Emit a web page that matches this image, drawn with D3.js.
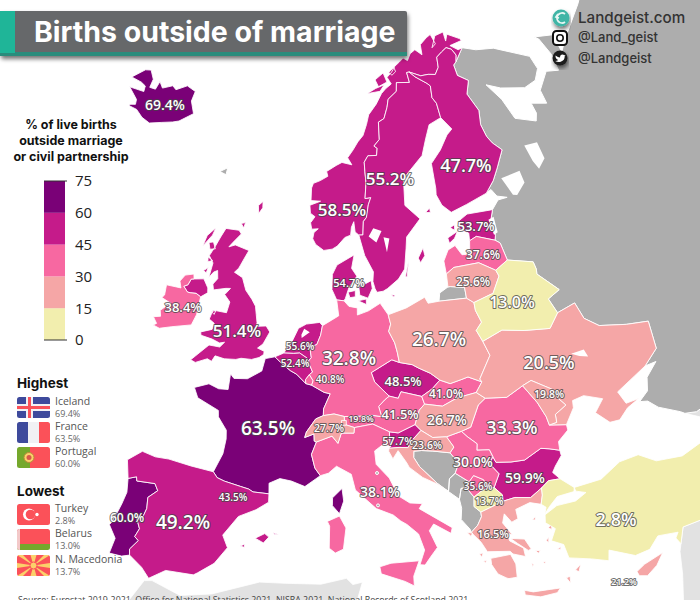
<!DOCTYPE html>
<html>
<head>
<meta charset="utf-8">
<title>Births outside of marriage</title>
<script src="https://cdn.jsdelivr.net/npm/d3@7"></script>
<style>
  html, body { margin: 0; padding: 0; background: #fff; overflow: hidden; }
  svg { display: block; }
  text { font-family: "Open Sans", sans-serif; }
  .head { font-family: Inter, sans-serif; font-weight: 700; }
  .pct { fill: #fff; font-weight: 600; text-anchor: middle; dominant-baseline: central;
         stroke: #444; stroke-opacity: .75; stroke-width: 2px; paint-order: stroke; stroke-linejoin: round; }
</style>
</head>
<body>
<div id="chart"></div>
<script>
// values
const countryNames = ["Iceland","France","Portugal","Bulgaria","Norway","Slovenia","Netherlands","Sweden","Denmark","Estonia","Belgium","UK","Spain","Czechia","Finland","Andorra","Austria","Slovakia","Luxembourg","Ireland","Italy","Latvia","Kosovo","Romania","Germany","Serbia","Switzerland","Poland","Hungary","Lithuania","Croatia","Cyprus","Ukraine","Moldova","Liechtenstein","Greece","NMacedonia","Belarus","Turkey"];
const countryValues = [69.4,63.5,60.0,59.9,58.5,57.7,55.6,55.2,54.7,53.7,52.4,51.4,49.2,48.5,47.7,43.5,41.5,41.0,40.8,38.4,38.1,37.6,35.6,33.3,32.8,30.0,27.7,26.7,26.7,25.6,23.6,21.2,20.5,19.8,19.8,16.5,13.7,13.0,2.8];
const legendBreaks = [0,15,30,45,60,75];
const legendColors = ["#f2eeae","#f5a6a6","#f768a1","#c51b8a","#7a0177"];
const highestRows = [["Iceland","69.4%"],["France","63.5%"],["Portugal","60.0%"]];
const lowestRows = [["Turkey","2.8%"],["Belarus","13.0%"],["N. Macedonia","13.7%"]];

// shared borders, lon/lat
const esPt = [[-8.87,41.87],[-8.2,42.1],[-8.1,41.85],[-6.55,41.95],[-6.2,41.55],[-6.9,41.0],[-6.8,40.3],[-7.0,39.65],[-7.5,39.65],[-7.05,38.95],[-7.3,38.4],[-6.95,38.2],[-7.5,37.55],[-7.4,37.18]];
const esFr = [[-1.8,43.38],[-1.4,43.05],[-0.75,42.9],[0.7,42.7],[1.4,42.6],[1.8,42.45],[3.17,42.43]];
const frBe = [[2.55,51.08],[3.2,50.75],[4.2,50.3],[4.85,50.1],[5.8,49.55]];
const frLu = [[5.8,49.55],[6.37,49.47]];
const frDe = [[6.37,49.47],[7.6,49.05],[8.2,48.97],[7.6,48.0],[7.6,47.58]];
const frCh = [[7.6,47.58],[6.9,47.35],[6.1,46.5],[5.97,46.15],[6.8,46.4],[6.85,45.95],[7.05,45.9]];
const frIt = [[7.05,45.9],[6.65,45.1],[7.0,44.25],[7.5,43.78]];
const beNl = [[3.4,51.37],[4.4,51.4],[5.0,51.45],[5.8,51.15],[5.7,50.76]];
const beDe = [[5.7,50.76],[6.1,50.7],[6.4,50.3],[6.1,50.13]];
const beLu = [[6.1,50.13],[5.75,49.8],[5.8,49.55]];
const luDe = [[6.37,49.47],[6.5,49.75],[6.1,50.13]];
const nlDe = [[7.2,53.25],[7.05,52.65],[6.7,52.05],[6.0,51.85],[6.2,51.2],[5.95,51.0],[5.7,50.76]];
const deDk = [[8.65,54.9],[9.45,54.85]];
const dePl = [[14.2,53.9],[14.4,53.3],[14.15,52.85],[14.7,52.1],[14.9,51.5],[15.04,50.85]];
const deCz = [[15.04,50.85],[14.3,51.05],[12.2,50.3],[12.5,49.7],[13.85,48.77]];
const deAt = [[13.85,48.77],[13.4,48.55],[12.8,48.15],[13.05,47.5],[12.2,47.6],[10.45,47.55],[9.55,47.55]];
const deCh = [[9.55,47.55],[8.6,47.7],[7.6,47.58]];
const plRu = [[19.8,54.44],[22.8,54.36]];
const plLt = [[22.8,54.36],[23.5,54.0]];
const plBy = [[23.5,54.0],[23.5,53.5],[23.9,52.7],[23.2,52.25],[23.65,51.5]];
const plUa = [[23.65,51.5],[24.1,50.55],[22.7,49.2],[22.85,49.0]];
const plSk = [[22.85,49.0],[21.6,49.45],[20.9,49.35],[19.8,49.2],[18.85,49.5]];
const plCz = [[18.85,49.5],[18.0,50.0],[16.9,50.4],[16.3,50.65],[15.04,50.85]];
const czSk = [[18.85,49.5],[18.0,49.0],[16.95,48.6]];
const czAt = [[16.95,48.6],[15.0,49.0],[14.7,48.6],[13.85,48.77]];
const skUa = [[22.85,49.0],[22.15,48.4]];
const skHu = [[17.15,48.1],[18.8,47.85],[20.3,48.25],[22.15,48.4]];
const skAt = [[17.15,48.1],[16.95,48.6]];
const atHu = [[17.15,48.1],[16.6,47.75],[16.1,46.87]];
const atSi = [[16.1,46.87],[14.5,46.42],[13.7,46.52]];
const atIt = [[13.7,46.52],[12.2,47.05],[10.5,46.85]];
const atCh = [[10.5,46.85],[9.6,47.05],[9.55,47.55]];
const chIt = [[10.5,46.85],[10.45,46.5],[9.3,46.5],[9.0,45.85],[8.45,46.3],[7.05,45.9]];
const itSi = [[13.75,45.6],[13.7,45.95],[13.7,46.52]];
const siHu = [[16.1,46.87],[16.6,46.47]];
const siHr = [[16.6,46.47],[15.65,45.85],[15.3,45.45],[14.5,45.5],[13.6,45.48]];
const huUa = [[22.15,48.4],[22.9,47.95]];
const huRo = [[22.9,47.95],[22.15,47.6],[21.15,46.3],[20.25,46.12]];
const huRs = [[20.25,46.12],[18.85,45.9]];
const huHr = [[18.85,45.9],[17.6,45.95],[16.6,46.47]];
const hrRs = [[18.85,45.9],[19.4,45.2],[19.0,44.87]];
const hrBa = [[19.0,44.87],[17.5,45.1],[16.5,45.2],[15.8,45.2],[15.75,44.8],[16.2,44.2],[17.6,43.05],[18.5,42.45]];
const baRs = [[19.0,44.87],[19.35,44.5],[19.6,44.05],[19.25,43.55]];
const baMe = [[19.25,43.55],[18.7,43.25],[18.5,42.45]];
const meRs = [[19.25,43.55],[20.35,42.9]];
const meKs = [[20.35,42.9],[20.05,42.55]];
const meAl = [[20.05,42.55],[19.6,42.55],[19.35,41.88]];
const rsRo = [[20.25,46.12],[20.7,45.75],[21.5,45.2],[21.4,44.8],[22.5,44.7],[22.7,44.25]];
const rsBg = [[22.7,44.25],[22.35,43.8],[23.0,43.1],[22.4,42.3]];
const rsMk = [[22.4,42.3],[21.75,42.3],[21.4,42.25]];
const rsKs = [[21.4,42.25],[21.75,42.65],[21.6,42.9],[20.8,43.25],[20.35,42.9]];
const ksMk = [[21.4,42.25],[20.6,41.9]];
const ksAl = [[20.6,41.9],[20.05,42.55]];
const mkBg = [[22.4,42.3],[23.0,41.75],[22.95,41.35]];
const mkGr = [[22.95,41.35],[21.0,40.9]];
const mkAl = [[21.0,40.9],[20.5,41.3],[20.6,41.9]];
const alGr = [[20.0,39.7],[20.6,40.1],[21.0,40.6],[21.0,40.9]];
const grTr = [[26.05,40.7],[26.3,41.25],[26.35,41.7]];
const grBg = [[26.35,41.7],[25.3,41.25],[24.0,41.45],[22.95,41.35]];
const bgTr = [[26.35,41.7],[27.05,42.05],[28.05,42.0]];
const roBg = [[28.58,43.75],[27.7,44.0],[27.0,44.15],[25.4,43.65],[24.2,43.7],[22.9,43.85],[22.7,44.25]];
const roUaN = [[22.9,47.95],[24.9,47.75],[26.6,48.25]];
const roMd = [[26.6,48.25],[27.6,47.0],[28.1,46.0],[28.2,45.45]];
const roUaS = [[28.2,45.45],[29.7,45.2]];
const mdUa = [[26.6,48.25],[27.5,48.45],[29.2,47.6],[29.6,46.9],[30.1,46.4],[28.95,46.0],[28.9,45.5],[28.2,45.45]];
const uaRu = [[38.2,47.1],[39.8,47.85],[40.1,49.6],[38.0,49.95],[35.4,50.5],[34.2,51.25],[33.8,52.35],[31.8,52.1]];
const uaBy = [[31.8,52.1],[30.6,51.3],[28.0,51.6],[25.8,51.95],[23.65,51.5]];
const byRu = [[31.8,52.1],[31.3,53.1],[32.7,53.45],[30.9,54.8],[31.0,55.1],[30.9,55.6],[28.15,56.15]];
const byLv = [[28.15,56.15],[26.6,55.7]];
const byLt = [[26.6,55.7],[26.8,55.3],[25.7,54.3],[25.5,54.3],[23.5,54.0]];
const ltLv = [[21.05,56.07],[22.0,56.4],[24.9,56.4],[26.6,55.7]];
const ltRu = [[22.8,54.36],[22.8,55.05],[21.25,55.25],[21.0,55.25]];
const lvEe = [[24.4,57.87],[25.3,58.05],[27.35,57.55]];
const lvRu = [[27.35,57.55],[27.85,57.3],[28.15,56.15]];
const eeRu = [[28.0,59.45],[27.4,58.75],[27.55,57.85],[27.35,57.55]];
const fiSe = [[20.55,69.06],[21.4,68.7],[23.2,68.15],[23.65,67.95],[23.5,67.2],[24.0,66.8],[24.15,65.85]];
const fiRu = [[27.8,60.55],[29.1,61.2],[30.1,61.9],[31.5,62.9],[30.5,63.5],[30.0,64.0],[29.7,64.8],[30.1,65.7],[29.1,66.9],[30.0,67.7],[28.5,68.2],[28.4,68.9],[28.93,69.05]];
const fiNo = [[28.93,69.05],[29.33,69.47],[28.85,69.9],[28.0,70.09],[27.0,69.9],[25.9,69.65],[25.7,69.0],[24.9,68.6],[23.7,68.7],[22.4,68.7],[20.55,69.06]];
const seNo = [[20.55,69.06],[20.1,69.05],[20.3,68.4],[18.1,68.5],[17.9,67.95],[16.4,67.5],[16.1,67.0],[15.45,66.3],[14.55,66.1],[14.5,65.0],[13.65,64.6],[14.1,64.45],[13.95,64.0],[12.7,64.0],[12.15,63.6],[12.2,63.0],[12.3,62.3],[12.1,61.3],[12.85,61.35],[12.5,60.9],[12.2,60.1],[11.8,59.85],[11.7,59.0],[11.2,59.0]];
const noRu = [[30.8,69.8],[28.93,69.05]];
const ieNi = [[-6.1,54.05],[-6.65,54.2],[-7.3,54.15],[-7.6,54.15],[-8.15,54.45],[-7.75,54.6],[-7.55,55.0],[-7.25,55.05]];

// coasts
const ptCoast = [[-7.4,37.18],[-8.0,37.0],[-9.0,37.0],[-8.8,38.0],[-9.5,38.75],[-9.3,39.0],[-8.9,40.2],[-8.7,41.0],[-8.87,41.87]];
const esNorth = [[-8.87,41.87],[-9.3,43.0],[-8.2,43.75],[-7.0,43.6],[-5.8,43.65],[-3.8,43.5],[-1.8,43.38]];
const esEast = [[3.17,42.43],[3.2,41.9],[2.2,41.35],[0.8,40.8],[-0.3,39.5],[0.2,38.75],[-0.7,37.65],[-1.9,36.9],[-2.2,36.73],[-4.4,36.7],[-5.6,36.0],[-6.3,36.6],[-7.4,37.18]];
const frAtl = [[-1.8,43.38],[-1.2,44.6],[-1.1,45.55],[-1.2,46.1],[-2.1,46.85],[-2.2,47.25],[-4.3,47.8],[-4.8,48.4],[-3.5,48.8],[-2.5,48.6],[-1.6,48.65],[-1.6,49.65],[-1.2,49.4],[0.1,49.5],[1.4,50.1],[1.6,50.9],[2.55,51.08]];
const frMed = [[7.5,43.78],[6.2,43.05],[5.0,43.35],[4.0,43.45],[3.1,43.1],[3.17,42.43]];
const beCoast = [[2.55,51.08],[3.4,51.37]];
const nlCoast = [[3.4,51.37],[3.6,51.6],[4.05,52.0],[4.7,53.0],[5.5,53.3],[6.9,53.45],[7.2,53.25]];
const deNorth = [[7.2,53.25],[8.1,53.6],[8.9,53.9],[8.65,54.9]];
const deBaltic = [[9.45,54.85],[10.0,54.5],[10.9,54.4],[10.9,53.95],[12.1,54.2],[13.4,54.65],[14.2,53.9]];
const jutland = [[9.45,54.85],[9.6,55.0],[10.0,55.7],[10.9,56.4],[10.3,56.9],[10.6,57.75],[8.6,57.1],[8.1,56.5],[8.1,55.55],[8.65,54.9]];
const plBaltic = [[14.2,53.9],[16.2,54.25],[18.3,54.8],[18.6,54.4],[19.8,54.44]];
const itCoast = [[7.5,43.78],[8.2,43.95],[8.9,44.4],[10.2,43.9],[10.55,42.9],[12.3,41.7],[13.7,41.25],[14.3,40.85],[14.8,40.6],[15.7,39.95],[16.1,38.9],[15.65,38.0],[16.05,37.95],[16.5,38.4],[17.15,39.0],[16.6,40.1],[17.0,40.5],[18.35,39.8],[18.5,40.15],[15.9,41.55],[16.2,41.85],[15.15,41.95],[14.2,42.45],[13.5,43.6],[12.4,44.5],[12.3,45.35],[13.1,45.75],[13.75,45.6]];
const siCoast = [[13.6,45.48],[13.75,45.6]];
const hrCoast = [[18.5,42.45],[17.6,43.0],[16.4,43.5],[15.3,44.2],[15.1,44.5],[14.4,45.3],[13.9,44.8],[13.55,45.3],[13.6,45.48]];
const meCoast = [[19.35,41.88],[18.5,42.45]];
const alCoast = [[19.35,41.88],[19.45,41.3],[19.3,40.6],[19.95,39.9],[20.0,39.7]];
const grCoast = [[20.0,39.7],[20.7,39.0],[21.1,38.35],[22.9,38.15],[23.1,37.95],[24.05,37.65],[24.0,38.2],[23.0,38.8],[22.9,39.3],[23.3,39.15],[22.65,40.0],[22.9,40.55],[23.4,39.95],[23.95,40.1],[23.9,40.7],[25.15,40.95],[26.05,40.7]];
const bgCoast = [[28.05,42.0],[27.55,42.5],[27.9,42.85],[28.6,43.4],[28.58,43.75]];
const roCoast = [[29.7,45.2],[29.7,44.85],[28.65,44.3],[28.58,43.75]];
const uaCoast = [[29.7,45.2],[30.7,46.1],[30.8,46.55],[31.9,46.65],[33.5,46.1],[32.5,45.4],[33.5,44.55],[34.4,44.5],[35.4,45.05],[36.6,45.35],[35.4,45.35],[35.0,46.2],[36.9,46.75],[38.2,47.1]];
const kalCoast = [[21.0,55.25],[20.0,54.95],[19.8,54.44]];
const ltCoast = [[21.0,55.25],[21.05,56.07]];
const lvCoast = [[21.05,56.07],[21.0,56.9],[21.7,57.55],[22.6,57.75],[23.2,57.1],[24.1,57.05],[24.4,57.87]];
const eeCoast = [[24.4,57.87],[24.5,58.35],[23.5,58.75],[23.5,59.2],[24.8,59.55],[28.0,59.45]];
const fiCoast = [[24.15,65.85],[25.4,65.0],[24.5,64.7],[23.1,63.85],[21.5,63.1],[21.5,61.5],[21.4,61.1],[21.9,60.4],[22.9,59.85],[25.0,60.15],[27.8,60.55]];
const seCoast = [[11.2,59.0],[11.85,57.7],[12.8,56.65],[12.7,56.05],[12.9,55.6],[13.1,55.35],[13.8,55.4],[14.3,55.55],[15.6,56.1],[16.4,56.7],[16.8,58.0],[17.0,58.7],[18.9,59.75],[17.2,60.7],[17.4,62.4],[20.4,63.7],[21.3,64.7],[22.2,65.55],[24.15,65.85]];
const noCoast = [[11.2,59.0],[10.75,59.2],[10.6,59.85],[10.3,59.5],[10.2,59.0],[9.5,58.85],[8.6,58.3],[8.0,58.1],[7.0,58.0],[6.0,58.35],[5.6,58.7],[5.7,59.1],[6.2,59.35],[5.4,59.3],[5.2,59.7],[5.7,60.1],[5.1,60.3],[4.95,60.8],[6.3,61.1],[5.05,61.1],[5.0,61.9],[5.2,62.2],[6.1,62.4],[7.1,62.7],[6.9,63.0],[8.2,63.4],[9.0,63.6],[10.4,63.45],[9.8,63.9],[10.6,64.4],[11.3,64.9],[12.1,65.3],[12.7,66.0],[13.1,66.6],[14.4,67.25],[15.4,67.9],[16.2,68.2],[17.2,68.45],[16.6,68.9],[17.5,69.2],[18.2,69.55],[19.0,69.75],[19.9,70.0],[20.6,69.8],[21.3,70.2],[22.3,70.4],[23.4,70.0],[23.5,70.65],[24.9,71.0],[25.8,71.15],[26.3,70.5],[25.5,70.3],[26.6,71.0],[28.3,71.1],[28.3,70.5],[28.9,70.9],[30.9,70.4],[31.1,70.25],[28.8,70.15],[30.0,69.75],[30.8,69.8]];
const ruGulf = [[28.0,59.45],[29.0,59.95],[30.2,59.95],[29.0,60.2],[28.5,60.7],[27.8,60.55]];
const ruArctic = [[30.8,69.8],[33.0,69.4],[36.0,69.1],[41.0,67.7],[41.2,66.8],[40.0,66.2],[38.0,66.05],[34.5,66.6],[32.5,67.1],[34.0,65.9],[34.8,64.5],[37.5,63.85],[38.0,64.3],[37.9,65.0],[40.0,64.6],[40.0,65.5],[42.2,66.4],[44.0,66.1],[44.3,67.2],[43.8,68.4],[43.3,68.65],[46.2,68.2],[46.0,67.0],[47.7,67.6],[53.0,68.9],[60.0,70.5],[75.0,70.0],[75.0,44.0],[48.0,44.0],[41.0,43.2],[40.0,43.4],[39.7,43.6],[38.0,44.4],[37.3,45.0],[36.6,45.15],[37.6,45.6],[38.0,46.4],[39.3,47.1],[38.2,47.1]];

// islands and the rest
const iceland = [[-22.7,63.85],[-21.5,63.85],[-20.3,63.55],[-19.0,63.42],[-17.5,63.75],[-16.0,64.05],[-15.2,64.25],[-13.6,65.0],[-14.6,65.7],[-14.6,66.35],[-16.1,66.5],[-17.5,66.0],[-18.2,66.15],[-19.5,65.75],[-20.3,66.05],[-20.4,65.5],[-21.3,65.45],[-21.4,66.0],[-22.4,66.45],[-23.2,66.3],[-24.5,65.5],[-22.8,65.5],[-22.0,65.4],[-21.8,65.05],[-24.0,64.9],[-22.2,64.4],[-22.0,64.1],[-22.7,63.95]];
const britain = [[1.4,51.15],[1.4,51.35],[0.7,51.5],[1.2,51.8],[1.75,52.6],[1.3,52.95],[0.3,52.85],[0.3,53.1],[0.1,53.6],[-0.1,54.1],[-0.6,54.5],[-1.4,55.0],[-2.0,55.75],[-3.0,56.0],[-2.6,56.3],[-2.05,57.15],[-1.8,57.5],[-3.5,57.7],[-4.2,57.5],[-3.8,57.85],[-3.05,58.45],[-3.4,58.65],[-5.0,58.6],[-5.4,58.0],[-5.8,57.3],[-6.0,57.0],[-6.2,56.7],[-5.6,56.3],[-5.7,55.35],[-5.3,55.75],[-4.9,55.9],[-4.7,55.4],[-5.1,55.0],[-4.9,54.65],[-3.6,54.9],[-3.1,54.95],[-3.6,54.5],[-2.9,54.1],[-3.05,53.4],[-4.5,53.4],[-4.7,52.8],[-4.1,52.6],[-4.2,52.2],[-5.3,51.9],[-5.2,51.7],[-4.0,51.6],[-3.2,51.45],[-2.7,51.55],[-3.1,51.2],[-4.2,51.2],[-5.7,50.05],[-5.2,49.95],[-4.1,50.33],[-3.65,50.22],[-3.4,50.6],[-2.45,50.52],[-1.3,50.6],[-0.8,50.72],[0.25,50.74],[0.97,50.92]];
const niCoast = [[-7.25,55.05],[-6.2,55.2],[-5.55,54.7],[-5.45,54.4],[-6.1,54.05]];
const ieCoast = [[-7.25,55.05],[-7.4,55.35],[-8.3,55.15],[-8.7,54.7],[-8.4,54.3],[-10.0,54.25],[-9.9,53.6],[-10.1,53.4],[-9.0,53.2],[-9.5,52.9],[-9.9,52.6],[-9.7,52.25],[-10.4,52.1],[-9.9,51.75],[-10.2,51.6],[-9.5,51.5],[-8.3,51.8],[-6.4,52.2],[-6.1,52.9],[-6.1,53.5],[-6.1,54.05]];
const ukIslands = [
  [[-6.6,57.5],[-6.1,57.6],[-5.7,57.2],[-6.3,57.1]],
  [[-7.0,57.9],[-6.2,58.5],[-6.4,58.0],[-7.2,57.2]],
  [[-6.3,56.6],[-5.7,56.45],[-6.2,56.3]],
  [[-6.45,55.7],[-6.0,55.95],[-6.1,55.6]],
  [[-4.65,53.3],[-4.2,53.4],[-4.3,53.15]],
  [[-3.3,59.1],[-2.8,59.2],[-2.9,58.85]],
  [[-1.4,59.9],[-1.0,60.3],[-1.1,60.7],[-1.6,60.4]]
];
const dkIslands = [
  [[11.1,55.7],[12.5,56.1],[12.6,55.6],[12.1,55.0],[11.2,55.2]],
  [[9.9,55.4],[10.7,55.5],[10.7,55.1],[10.1,55.05]],
  [[11.0,54.85],[11.9,54.95],[11.9,54.6]],
  [[14.7,55.15],[15.1,55.1],[14.9,55.0]]
];
const seIslands = [
  [[18.1,57.3],[18.8,57.9],[18.9,57.4],[18.3,57.0]],
  [[16.4,56.2],[17.0,57.3],[16.6,56.2]]
];
const fiIslands = [[[19.7,60.1],[20.3,60.35],[20.3,60.05]]];
const eeIslands = [
  [[21.9,58.3],[23.2,58.6],[22.7,58.2],[22.0,57.95]],
  [[22.4,58.9],[23.0,59.05],[22.9,58.7]]
];
const esIslands = [
  [[2.35,39.55],[3.1,39.9],[3.45,39.7],[3.05,39.3]],
  [[3.8,40.0],[4.3,39.9],[3.9,39.9]],
  [[1.2,38.95],[1.55,39.1],[1.55,38.9]]
];
const frIslands = [[[9.4,43.0],[9.55,42.2],[9.2,41.4],[8.6,41.9],[8.6,42.4]]];
const itIslands = [
  [[9.2,41.25],[9.75,40.5],[9.55,39.15],[8.9,38.9],[8.4,39.2],[8.4,40.6],[8.2,40.9]],
  [[12.45,38.0],[13.35,38.2],[15.6,38.25],[15.1,37.3],[15.1,36.68],[14.4,37.0],[12.55,37.55]]
];
const grIslands = [
  [[21.3,37.9],[22.9,37.95],[23.2,37.3],[23.15,36.45],[22.5,36.45],[22.35,36.5],[21.7,36.85],[21.3,37.5]],
  [[23.55,35.55],[24.2,35.35],[25.5,35.3],[26.3,35.25],[26.0,35.0],[24.7,34.95],[23.55,35.25]],
  [[23.1,38.95],[24.2,38.75],[24.6,38.05],[24.35,38.0],[23.6,38.55]],
  [[27.7,36.15],[28.2,36.45],[27.95,36.0]],
  [[26.25,39.15],[26.6,39.35],[26.5,39.0]],
  [[25.9,38.4],[26.15,38.55],[26.05,38.2]],
  [[25.1,39.85],[25.4,40.0],[25.35,39.8]],
  [[26.6,37.7],[26.95,37.8],[26.9,37.65]],
  [[19.65,39.75],[20.1,39.65],[19.95,39.45]],
  [[20.45,38.3],[20.75,38.3],[20.6,38.05]],
  [[20.7,37.8],[20.95,37.8],[20.85,37.65]],
  [[24.9,37.9],[25.3,37.85],[25.1,37.7]],
  [[25.35,37.1],[25.55,37.1],[25.45,36.95]],
  [[24.45,37.15],[24.6,37.05],[24.45,36.95]],
  [[26.9,35.8],[27.2,35.85],[27.15,35.4]]
];
const turkeyAnatolia = [[29.05,41.25],[31.4,41.3],[33.3,42.0],[35.0,42.05],[36.3,41.3],[38.5,41.0],[41.55,41.52],[43.5,41.1],[46.0,40.0],[46.0,37.1],[42.4,37.1],[40.0,36.8],[36.7,36.8],[36.15,35.85],[35.9,36.3],[36.2,36.6],[34.6,36.8],[33.7,36.15],[32.5,36.05],[30.6,36.85],[30.4,36.2],[29.1,36.6],[27.4,37.0],[27.2,37.9],[26.3,38.3],[26.8,39.0],[26.1,39.5],[26.2,40.0],[27.3,40.4],[28.9,40.4],[29.9,40.75],[29.1,41.0]];
const turkeyThrace = [[28.05,42.0],[29.05,41.25],[28.95,41.0],[27.5,40.95],[26.7,40.45],[26.2,40.05],[26.4,40.45],[26.05,40.7]];
const cyprus = [[32.3,35.05],[33.0,35.35],[34.6,35.7],[33.9,35.05],[33.0,34.6],[32.4,34.75]];
const liechtenstein = [[9.3,47.0],[9.3,47.3],[9.75,47.3],[9.75,47.0]];
const faroe = [[-7.5,62.0],[-6.6,62.35],[-6.6,61.9]];
const northAfrica = [[-7.0,32.0],[-7.0,34.0],[-5.9,35.8],[-5.3,35.9],[-3.0,35.3],[-0.6,35.7],[3.0,36.8],[5.0,36.85],[7.8,36.9],[9.8,37.3],[10.3,36.9],[11.05,37.05],[10.6,35.8],[11.0,33.0],[11.0,30.0]];
const levant = [[36.15,35.85],[35.9,35.4],[35.6,34.0],[35.0,32.0],[35.0,28.0],[50.0,28.0],[50.0,37.1],[46.0,37.1],[42.4,37.1],[40.0,36.8],[36.7,36.8]];
const caucasus = [[40.0,43.4],[41.0,43.2],[48.0,44.0],[50.0,41.0],[43.5,41.1],[41.55,41.52],[41.5,42.6]];
// white water on top of the land
const lakes = [
  [[12.4,58.9],[13.0,59.4],[14.0,59.2],[13.3,58.5]],
  [[14.2,58.8],[14.9,58.7],[14.5,57.85]],
  [[30.2,61.2],[32.8,61.3],[32.9,60.5],[31.5,59.9],[31.0,60.0]],
  [[34.6,62.7],[36.4,62.6],[36.5,61.5],[35.3,61.0],[34.9,61.6]],
  [[27.2,58.9],[27.9,59.0],[27.9,58.0],[27.4,57.9]],
  [[5.1,52.4],[5.9,52.8],[5.3,53.0],[5.05,52.6]],
  [[31.9,49.4],[33.2,49.4],[33.4,48.9],[32.6,49.1]]
];
// San Marino and the Vatican, grey dots inside Italy
const enclaves = [[12.45,43.95],[12.45,41.9]];

const rev = a => a.slice().reverse();
const ring = (...parts) => parts.flat();

// the outline(s) of each country
const shapes = {
  Iceland: [iceland],
  France: [ring(frAtl,frBe,frLu,frDe,frCh,frIt,frMed,rev(esFr)), ...frIslands],
  Portugal: [ring(ptCoast,esPt)],
  Bulgaria: [ring(bgCoast,roBg,rsBg,mkBg,rev(grBg),bgTr)],
  Norway: [ring(noCoast,noRu,fiNo,seNo), [[13.0,67.95],[14.5,68.25],[16.0,68.45],[15.2,68.05]], [[14.5,68.8],[16.0,69.2],[16.5,68.6],[15.0,68.35]], [[17.0,69.2],[18.0,69.5],[18.2,69.2],[17.5,69.0]]],
  Slovenia: [ring(rev(atSi),siHu,siHr,siCoast,itSi)],
  Netherlands: [ring(nlCoast,nlDe,rev(beNl))],
  Sweden: [ring(seNo,seCoast,rev(fiSe)), ...seIslands],
  Denmark: [ring(jutland,deDk), ...dkIslands],
  Estonia: [ring(eeCoast,eeRu,rev(lvEe)), ...eeIslands],
  Belgium: [ring(beCoast,beNl,beDe,beLu,rev(frBe))],
  UK: [britain, ring(niCoast,ieNi), ...ukIslands],
  Spain: [ring(esNorth,esFr,esEast,rev(esPt)), ...esIslands],
  Czechia: [ring(rev(plCz),czSk,czAt,rev(deCz))],
  Finland: [ring(fiSe,fiCoast,fiRu,fiNo), ...fiIslands],
  Austria: [ring(rev(czAt),rev(skAt),atHu,atSi,atIt,atCh,rev(deAt))],
  Slovakia: [ring(rev(plSk),skUa,rev(skHu),skAt,rev(czSk))],
  Luxembourg: [ring(beLu,frLu,luDe)],
  Ireland: [ring(ieCoast,ieNi)],
  Italy: [ring(chIt,frIt,itCoast,itSi,atIt), ...itIslands],
  Latvia: [ring(lvCoast,lvEe,lvRu,byLv,rev(ltLv))],
  Kosovo: [ring(rev(rsKs),ksMk,ksAl,rev(meKs))],
  Romania: [ring(rev(huRo),roUaN,roMd,roUaS,roCoast,roBg,rev(rsRo))],
  Germany: [ring(deNorth,deDk,deBaltic,dePl,deCz,deAt,deCh,rev(frDe),luDe,rev(beDe),rev(nlDe))],
  Serbia: [ring(rev(hrRs),rev(huRs),rsRo,rsBg,rsMk,rsKs,rev(meRs),rev(baRs))],
  Switzerland: [ring(deCh,frCh,rev(chIt),atCh)],
  Poland: [ring(plBaltic,plRu,plLt,plBy,plUa,plSk,plCz,rev(dePl))],
  Hungary: [ring(skHu,huUa,huRo,huRs,huHr,rev(siHu),rev(atHu))],
  Lithuania: [ring(ltLv,byLt,rev(plLt),ltRu,ltCoast)],
  Croatia: [ring(rev(huHr),hrRs,hrBa,hrCoast,rev(siHr))],
  Cyprus: [cyprus],
  Ukraine: [ring(uaBy,plUa,skUa,huUa,roUaN,mdUa,roUaS,uaCoast,uaRu)],
  Moldova: [ring(mdUa,rev(roMd))],
  Liechtenstein: [liechtenstein],
  Greece: [ring(grCoast,grTr,grBg,mkGr,rev(alGr)), ...grIslands],
  NMacedonia: [ring(rev(rsMk),mkBg,mkGr,mkAl,rev(ksMk))],
  Belarus: [ring(byRu,byLv,byLt,plBy,rev(uaBy))],
  Turkey: [turkeyAnatolia, ring(grTr,bgTr,turkeyThrace)]
};
const noDataDark = [
  ring(rev(noRu),ruArctic,uaRu,byRu,rev(lvRu),rev(eeRu),ruGulf,fiRu),
  ring(plRu,ltRu,kalCoast),
  ring(rev(hrBa),baRs,baMe),
  ring(rev(baMe),meRs,meKs,meAl,meCoast),
  ring(meAl,alCoast,alGr,mkAl,ksAl),
  faroe
];
const noDataLight = [northAfrica, levant, caucasus];

// label layout, px
const labelSpots = {
  Iceland:[165,104,14], Norway:[342,209,17], Sweden:[390,178,17], Finland:[466,165,18], Estonia:[476,226,13],
  Latvia:[483,254,12], Lithuania:[473,281,12], Belarus:[512,302,16], Denmark:[349,282,11], Ireland:[183,307,13],
  UK:[237,330,17], Netherlands:[300,346,10], Belgium:[295,363,10], Luxembourg:[330,379,10], Germany:[349,358,19],
  Poland:[439,339,19], Ukraine:[549,362,18], Moldova:[549,394,10.5], Czechia:[403,381,13], Slovakia:[446,393,12],
  Austria:[400,414,13], Hungary:[447,419,14], Romania:[512,427,18], France:[268,428,19], Switzerland:[329,428,10.5],
  Liechtenstein:[361,418,9], Slovenia:[398,440,11], Croatia:[427,445,10.5], Serbia:[473,461,14], Kosovo:[478,486,10],
  NMacedonia:[489,501,10], Bulgaria:[525,477,14], Greece:[493,533,11], Turkey:[616,519,18], Italy:[380,491,14],
  Portugal:[127,517,12], Spain:[183,522,19], Andorra:[233,497,10], Cyprus:[624,581,9]
};

const svg = d3.select("#chart").append("svg").attr("width", 700).attr("height", 600);
const defs = svg.append("defs");
const shadow = defs.append("filter").attr("id", "shade").attr("x", "-5%").attr("y", "-20%").attr("width", "110%").attr("height", "150%");
shadow.append("feDropShadow").attr("dx", 1).attr("dy", 3).attr("stdDeviation", 2).attr("flood-color", "#000").attr("flood-opacity", .55);

const projection = d3.geoAzimuthalEqualArea().rotate([-10, -52]).scale(908).translate([349, 346]).precision(.3);
const path = d3.geoPath(projection);
const color = d3.scaleThreshold().domain(legendBreaks.slice(1, -1)).range(legendColors);

// d3 wants clockwise rings, flip any that came out the other way
function outline(rings) {
  return rings.map(r => {
    const closed = [...r, r[0]];
    const area = d3.geoArea({ type: "Polygon", coordinates: [closed] });
    return path({ type: "Polygon", coordinates: [area > 2 * Math.PI ? closed.reverse() : closed] });
  }).join("");
}

const map = svg.append("g");
map.append("path").attr("d", outline(noDataLight)).attr("fill", "#e2e2e2").attr("stroke", "#fff").attr("stroke-width", .8);
map.append("path").attr("d", outline(noDataDark)).attr("fill", "#adadad").attr("stroke", "#fff").attr("stroke-width", 1);

const drawn = countryNames.filter(n => shapes[n]);
map.selectAll("path.land")
  .data(drawn)
  .enter()
  .append("path")
  .attr("class", "land")
  .attr("d", n => outline(shapes[n]))
  .attr("fill", n => color(countryValues[countryNames.indexOf(n)]))
  .attr("stroke", "#fff")
  .attr("stroke-opacity", .85)
  .attr("stroke-width", 1)
  .attr("stroke-linejoin", "round");

map.append("path").attr("d", outline(lakes)).attr("fill", "#fff");
map.selectAll("circle.enclave")
  .data(enclaves)
  .enter()
  .append("circle")
  .attr("class", "enclave")
  .attr("cx", d => projection(d)[0])
  .attr("cy", d => projection(d)[1])
  .attr("r", 1.5)
  .attr("fill", "#adadad")
  .attr("stroke", "#fff");

// percent labels
svg.append("g").selectAll("text")
  .data(countryNames)
  .enter()
  .append("text")
  .attr("class", "pct")
  .attr("x", n => labelSpots[n][0])
  .attr("y", n => labelSpots[n][1])
  .style("font-size", n => labelSpots[n][2] + "px")
  .text(n => countryValues[countryNames.indexOf(n)].toFixed(1) + "%");

// title banner
const banner = svg.append("g");
banner.append("rect").attr("x", 0).attr("y", 11).attr("width", 407).attr("height", 45).attr("rx", 2).attr("fill", "#66676b").attr("filter", "url(#shade)");
banner.append("rect").attr("x", 0).attr("y", 52).attr("width", 407).attr("height", 4).attr("fill", "#2a8c7c");
banner.append("rect").attr("x", 0).attr("y", 11).attr("width", 15).attr("height", 42).attr("fill", "#1fb598");
banner.append("text").attr("class", "head").attr("x", 34).attr("y", 42).attr("fill", "#fff").style("font-size", "28.5px").text("Births outside of marriage");

// colour legend
const legendY = d3.scaleLinear().domain([0, 75]).range([340, 181]);
const legend = svg.append("g");
["% of live births", "outside marriage", "or civil partnership"].forEach((t, i) => {
  legend.append("text").attr("class", "head").attr("x", 71).attr("y", 129 + i * 16).attr("text-anchor", "middle").attr("fill", "#111").style("font-size", "12.5px").text(t);
});
legend.selectAll("rect")
  .data(legendColors)
  .enter()
  .append("rect")
  .attr("x", 44)
  .attr("width", 21)
  .attr("y", (c, i) => legendY(legendBreaks[i + 1]))
  .attr("height", (c, i) => legendY(legendBreaks[i]) - legendY(legendBreaks[i + 1]))
  .attr("fill", c => c);
[0, 75].forEach(v => {
  legend.append("line").attr("x1", 44).attr("x2", 67).attr("y1", legendY(v)).attr("y2", legendY(v)).attr("stroke", "#333");
});
const legendAxis = legend.append("g").attr("transform", "translate(65,0)")
  .call(d3.axisRight(legendY).tickValues(legendBreaks).tickSize(0).tickPadding(10));
legendAxis.select(".domain").remove();
legendAxis.selectAll("text").attr("fill", "#222").style("font-size", "15px").style("font-family", "'Open Sans', sans-serif");

// flags
function drawFlag(g, name) {
  const w = 33, h = 21;
  const rect = (x, y, rw, rh, f) => g.append("rect").attr("x", x).attr("y", y).attr("width", rw).attr("height", rh).attr("fill", f);
  const red = "#fb5159", blue = "#3e4a9c", white = "#f1f1f4", green = "#75a82c", yellow = "#fbd06a";
  if (name === "Iceland") {
    rect(0, 0, w, h, blue); rect(9, 0, 7, h, white); rect(0, 7, w, 7, white); rect(11, 0, 3, h, red); rect(0, 9, w, 3, red);
  } else if (name === "France") {
    rect(0, 0, 11, h, blue); rect(11, 0, 11, h, white); rect(22, 0, 11, h, red);
  } else if (name === "Portugal") {
    rect(0, 0, 13, h, green); rect(13, 0, 20, h, red);
    g.append("circle").attr("cx", 12).attr("cy", 10.5).attr("r", 5).attr("fill", yellow).attr("stroke", "#b98b3a");
    g.append("circle").attr("cx", 12).attr("cy", 10.5).attr("r", 2.5).attr("fill", "#d9574a");
  } else if (name === "Turkey") {
    rect(0, 0, w, h, red);
    g.append("circle").attr("cx", 12).attr("cy", 10.5).attr("r", 6).attr("fill", "#fff");
    g.append("circle").attr("cx", 13.5).attr("cy", 10.5).attr("r", 4.8).attr("fill", red);
    g.append("circle").attr("cx", 20).attr("cy", 10.5).attr("r", 1.7).attr("fill", "#fff");
  } else if (name === "Belarus") {
    rect(0, 0, w, 15, red); rect(0, 15, w, 6, green); rect(0, 0, 3, h, "#f3c9c9");
  } else {
    rect(0, 0, w, h, red);
    [[0, 0, 6, 0], [33, 0, 27, 0], [0, 21, 6, 21], [33, 21, 27, 21], [13.5, 0, 19.5, 0], [13.5, 21, 19.5, 21], [0, 8, 0, 13], [33, 8, 33, 13]].forEach(p => {
      const pts = [[p[0], p[1]], [p[2], p[3]], [16.5, 10.5]];
      g.append("polygon").attr("points", pts.join(" ")).attr("fill", yellow);
    });
    g.append("circle").attr("cx", 16.5).attr("cy", 10.5).attr("r", 3.5).attr("fill", yellow).attr("stroke", red);
  }
}
defs.append("clipPath").attr("id", "flagclip").append("rect").attr("width", 33).attr("height", 21).attr("rx", 2.5);

function rankList(title, titleY, rows, rowY) {
  svg.append("text").attr("class", "head").attr("x", 17).attr("y", titleY).attr("fill", "#111").style("font-size", "13.5px").text(title);
  rows.forEach((r, i) => {
    const y = rowY[i];
    const g = svg.append("g").attr("transform", `translate(17,${y})`).attr("clip-path", "url(#flagclip)");
    drawFlag(g, r[0]);
    svg.append("text").attr("x", 55).attr("y", y + 8).attr("fill", "#555").style("font-size", "10.5px").text(r[0]);
    svg.append("text").attr("x", 55).attr("y", y + 20).attr("fill", "#666").style("font-size", "9px").text(r[1]);
  });
}
rankList("Highest", 388, highestRows, [397, 422, 447]);
rankList("Lowest", 496, lowestRows, [504, 529, 555]);

// branding, top right
const brand = svg.append("g");
[["Landgeist.com", 23, 15.2], ["@Land_geist", 42, 13], ["@Landgeist", 63, 13]].forEach(d => {
  brand.append("text").attr("x", 578).attr("y", d[1]).attr("fill", "#333").attr("font-weight", 500).style("font-family", "Inter, sans-serif").style("font-size", d[2] + "px").text(d[0]);
});
brand.append("circle").attr("cx", 561).attr("cy", 18).attr("r", 8.5).attr("fill", "#3fb5a6").attr("filter", "url(#shade)");
brand.append("path").attr("d", "M565 14 a5 5 0 1 0 0 8 M558 14 l-2 3 l3 1").attr("fill", "none").attr("stroke", "#e8f7f4").attr("stroke-width", 1.8);
brand.append("rect").attr("x", 553).attr("y", 31).attr("width", 14).attr("height", 14).attr("rx", 3.5).attr("fill", "#fff").attr("stroke", "#111").attr("stroke-width", 2);
brand.append("circle").attr("cx", 560).attr("cy", 38).attr("r", 3.2).attr("fill", "none").attr("stroke", "#111").attr("stroke-width", 1.6);
brand.append("circle").attr("cx", 560).attr("cy", 58).attr("r", 7.5).attr("fill", "#1c1c1c").attr("filter", "url(#shade)");
brand.append("path").attr("d", "M555.5 55.5 q2.5 2 4.5 2 q0 -3 2.5 -3 q1 0 1.8 .8 l1.2 -.3 l-.8 1.3 q.2 4 -4 5.5 q-3 .8 -5.5 -.8 q2 0 3 -1 q-3 -1.5 -2.7 -4.5z").attr("fill", "#fff");

svg.append("text").attr("x", 18).attr("y", 603).attr("fill", "#444").style("font-size", "8.8px")
  .text("Source: Eurostat 2019-2021, Office for National Statistics 2021, NISRA 2021, National Records of Scotland 2021");
</script>
</body>
</html>
